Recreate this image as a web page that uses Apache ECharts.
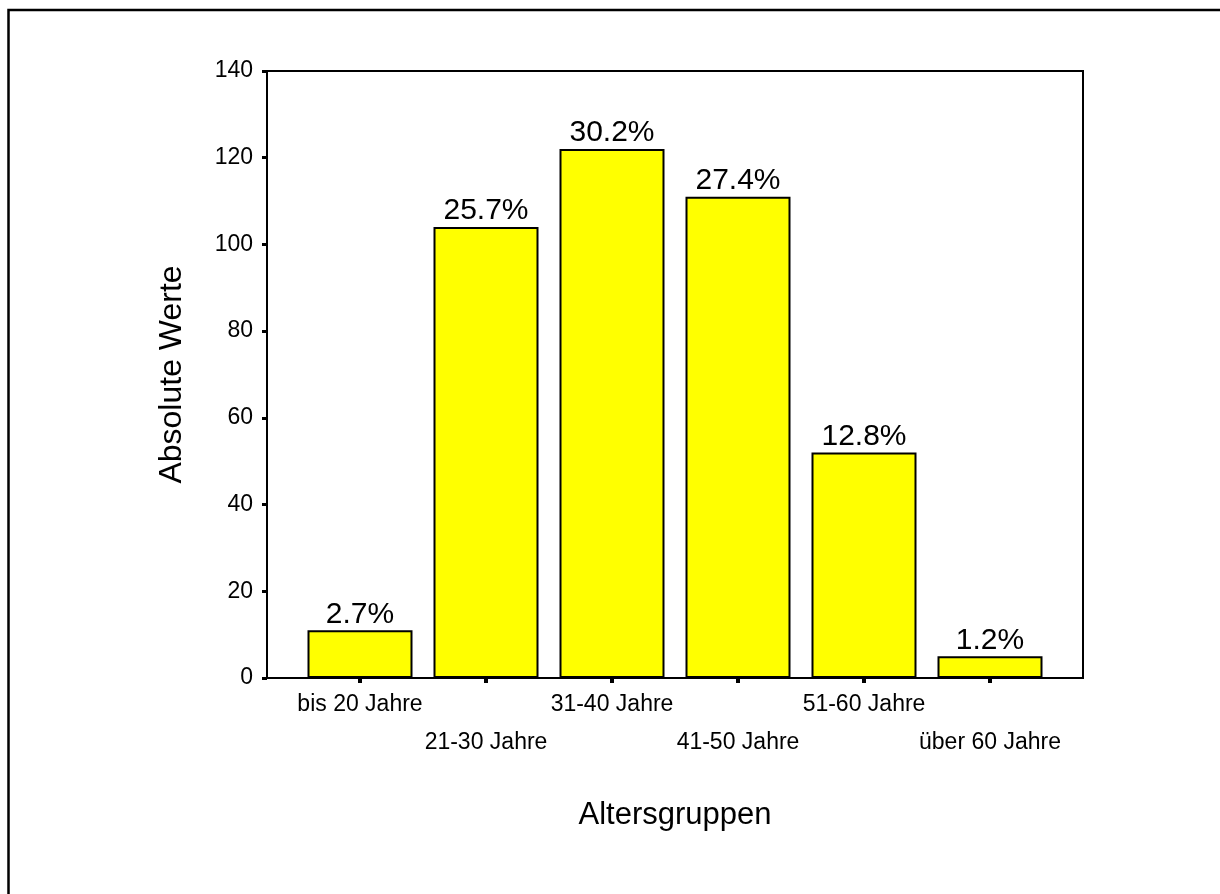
<!DOCTYPE html>
<html>
<head>
<meta charset="utf-8">
<script src="https://cdn.jsdelivr.net/npm/echarts@6/dist/echarts.min.js"></script>
<style>
  html, body { margin: 0; padding: 0; background: #fff; }
  #chart { width: 1220px; height: 894px; }
</style>
</head>
<body>
<div id="chart"></div>
<script>
// Altersgruppen: absolute Häufigkeiten und Anteile
const categories = ['bis 20 Jahre', '21-30 Jahre', '31-40 Jahre', '41-50 Jahre', '51-60 Jahre', 'über 60 Jahre'];
const counts = [11, 104, 122, 111, 52, 5];
const percents = ['2.7', '25.7', '30.2', '27.4', '12.8', '1.2'];
const yTicks = { min: 0, max: 140, interval: 20 };

const FONT = '"Liberation Sans", Arial, sans-serif';

const chart = echarts.init(document.getElementById('chart'), null, { renderer: 'canvas' });

chart.setOption({
  backgroundColor: '#ffffff',
  animation: false,
  graphic: [{
    type: 'rect',
    shape: { x: 8.5, y: 10, width: 1300, height: 1000 },
    style: { fill: 'none', stroke: '#000', lineWidth: 2.5 },
    silent: true
  }],
  grid: [
    // plot frame with value axis
    { left: 267, right: 137, top: 71, bottom: 216, show: true, borderColor: '#000', borderWidth: 2, backgroundColor: 'transparent' },
    // inner band for the bars
    { left: 297, width: 756, top: 71, bottom: 216 }
  ],
  xAxis: [
    { gridIndex: 0, type: 'value', min: 0, max: 1, show: false },
    {
      gridIndex: 1,
      type: 'category',
      data: categories,
      name: 'Altersgruppen',
      nameLocation: 'middle',
      nameGap: 122,
      nameTextStyle: { fontFamily: FONT, fontSize: 31, color: '#000' },
      axisLine: { show: false },
      axisTick: { show: true, alignWithLabel: true, inside: false, length: 5, lineStyle: { color: '#000', width: 4 } },
      axisLabel: {
        interval: 0,
        margin: 8,
        fontFamily: FONT,
        fontSize: 23,
        lineHeight: 38,
        color: '#000',
        formatter: (v, i) => (i % 2 ? '\n' + v : v)
      }
    }
  ],
  yAxis: [
    {
      gridIndex: 0,
      type: 'value',
      min: yTicks.min,
      max: yTicks.max,
      interval: yTicks.interval,
      name: 'Absolute Werte',
      nameLocation: 'middle',
      nameGap: 79,
      nameTextStyle: { fontFamily: FONT, fontSize: 32, color: '#000' },
      axisLine: { show: true, lineStyle: { color: '#000', width: 2 } },
      axisTick: { show: true, length: 5, lineStyle: { color: '#000', width: 3 } },
      axisLabel: { margin: 14, fontFamily: FONT, fontSize: 23, color: '#000' },
      splitLine: { show: false }
    },
    { gridIndex: 1, type: 'value', min: yTicks.min, max: yTicks.max, show: false }
  ],
  series: [{
    type: 'bar',
    xAxisIndex: 1,
    yAxisIndex: 1,
    data: counts,
    barWidth: 105,
    itemStyle: { color: '#ffff00', borderColor: '#000', borderWidth: 2 },
    label: {
      show: true,
      position: 'top',
      distance: 1,
      fontFamily: FONT,
      fontSize: 30,
      color: '#000',
      formatter: p => percents[p.dataIndex] + '%'
    }
  }]
});
</script>
</body>
</html>
